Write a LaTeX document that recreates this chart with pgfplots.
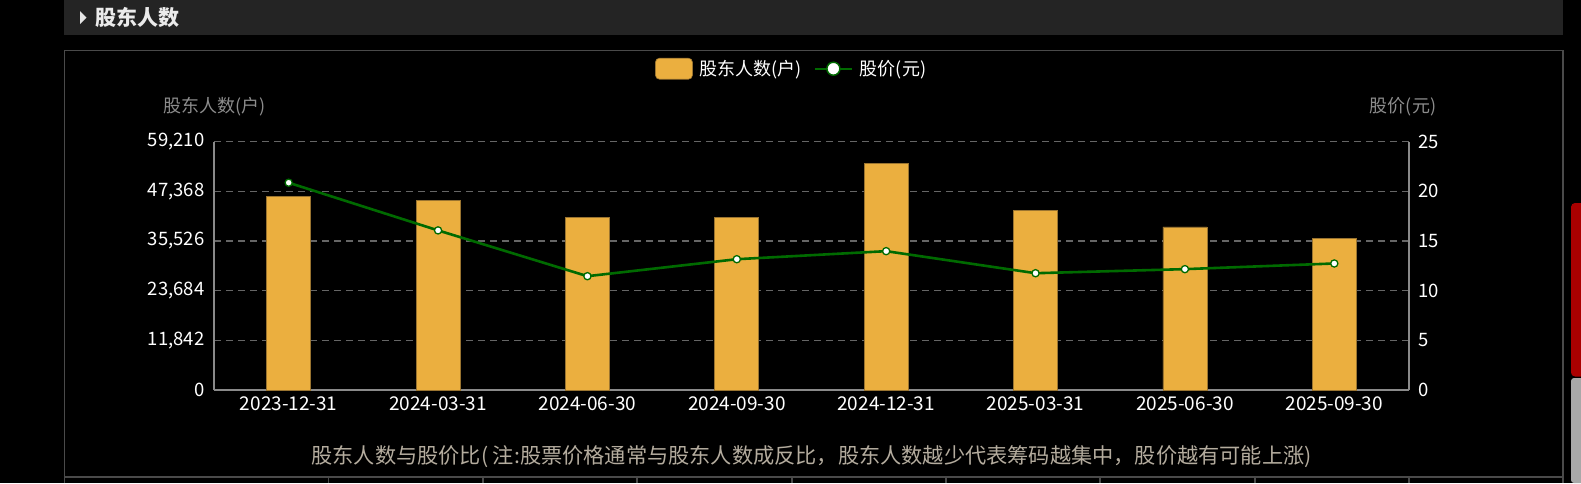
\documentclass[border=0pt]{standalone}
\usepackage{fontspec}
\setmainfont{Noto Sans CJK SC}
\usepackage{pgfplots}
\pgfplotsset{compat=1.18}
\definecolor{barc}{HTML}{EBAF3F}
\definecolor{bare}{HTML}{9A7430}
\definecolor{linec}{HTML}{006A00}
\definecolor{gridc}{HTML}{666666}
\definecolor{axc}{HTML}{8A8A8A}
\definecolor{titc}{HTML}{8C8C8C}
\definecolor{capc}{HTML}{B4AC9E}
\definecolor{hdr}{HTML}{242424}
\definecolor{panel}{HTML}{4A4A4A}
\definecolor{scrred}{HTML}{AA0000}
\definecolor{scrgray}{HTML}{A8A8A8}
\begin{document}
\begin{tikzpicture}
\useasboundingbox (0pt,0pt) rectangle (1581pt,-483pt);
% background and page decorations
\fill[black] (0pt,0pt) rectangle (1581pt,-483pt);
\fill[hdr] (64pt,0pt) rectangle (1563pt,-34.5pt);
\fill[white!90!black] (80pt,-11pt) -- (86.5pt,-17.5pt) -- (80pt,-24pt) -- cycle;
\node[anchor=west, text=white!92!black, font=\fontsize{21}{24}\selectfont\bfseries, inner sep=0pt] at (95pt,-17.5pt) {股东人数};
\draw[panel, line width=1.5pt] (64.5pt,-483pt) -- (64.5pt,-50.5pt) -- (1563pt,-50.5pt) -- (1563pt,-483pt);
\draw[panel, line width=1.5pt] (64.5pt,-477pt) -- (1563pt,-477pt);
\foreach \xx in {328.6,483,637,792,946,1100,1255,1409}{
  \draw[panel, line width=1.2pt] (\xx pt,-477pt) -- (\xx pt,-483pt);
}
\begin{scope}
\clip (0pt,0pt) rectangle (1581pt,-483pt);
\fill[scrred, rounded corners=4pt] (1571pt,-376.5pt) -- (1571pt,-203pt) -- (1585pt,-203pt) -- (1585pt,-376.5pt) -- cycle;
\fill[scrgray, rounded corners=3pt] (1571pt,-483pt) -- (1571pt,-378pt) -- (1585pt,-378pt) -- (1585pt,-483pt) -- cycle;
\end{scope}
% axis titles and caption
\node[text=titc, font=\fontsize{18}{21}\selectfont] at (214.5pt,-107pt) {股东人数(户)};
\node[text=titc, font=\fontsize{18}{21}\selectfont] at (1403pt,-107pt) {股价(元)};
\node[text=capc, font=\fontsize{21.2}{24}\selectfont] at (811.5pt,-457pt) {股东人数与股价比( 注:股票价格通常与股东人数成反比，股东人数越少代表筹码越集中，股价越有可能上涨)};

\begin{axis}[
  at={(214pt,-390pt)}, anchor=south west,
  scale only axis, width=1195pt, height=248.3pt,
  xmin=-0.5, xmax=7.5, ymin=0, ymax=59210,
  scaled y ticks=false,
  axis x line*=bottom, axis y line*=left,
  axis line style={axc, line width=1.3pt, -},
  every outer x axis line/.append style={-},
  every outer y axis line/.append style={-},
  xtick={0,1,2,3,4,5,6,7},
  xticklabels={2023-12-31,2024-03-31,2024-06-30,2024-09-30,2024-12-31,2025-03-31,2025-06-30,2025-09-30},
  ytick={0,11842,23684,35526,47368,59210},
  yticklabels={0,{11,842},{23,684},{35,526},{47,368},{59,210}},
  major tick length=0pt,
  ymajorgrids,
  grid style={gridc, line width=1.3pt, dash pattern=on 7pt off 5pt},
  yticklabel style={text=white, font=\fontsize{18.5}{21}\selectfont, xshift=-6pt},
  xticklabel style={text=white, font=\fontsize{19}{22}\selectfont, yshift=-3pt},
  /pgf/number format/assume math mode=true,
  clip=false,
]
\addplot[ybar, bar width=44pt, fill=barc, draw=bare, line width=0.6pt]
  coordinates {(0,46245) (1,45219) (2,41065) (3,41145) (4,53957) (5,42736) (6,38916) (7,36146)};
\end{axis}

\begin{axis}[
  at={(214pt,-390pt)}, anchor=south west,
  scale only axis, width=1195pt, height=248.3pt,
  xmin=-0.5, xmax=7.5, ymin=0, ymax=25,
  axis x line=none, axis y line*=right,
  axis line style={axc, line width=1.3pt, -},
  every outer y axis line/.append style={-},
  ytick={0,5,10,15,20,25},
  major tick length=0pt,
  yticklabel style={text=white, font=\fontsize{18.5}{21}\selectfont, xshift=6pt},
  /pgf/number format/assume math mode=true,
  legend columns=2,
  legend style={at={(rel axis cs:0.369,1.294)}, anchor=west, draw=none, fill=none,
    text=white, font=\fontsize{18}{21}\selectfont, inner sep=0pt,
    /tikz/every odd column/.append style={column sep=5pt},
    /tikz/every even column/.append style={column sep=10pt}},
]
\addlegendimage{legend image code/.code={\draw[fill=barc, draw=bare, line width=0.6pt, rounded corners=4pt] (0pt,-10.5pt) rectangle (37pt,10.5pt);}}
\addlegendentry{股东人数(户)}
\addplot[linec, line width=2.6pt, mark=*, mark size=3.6pt,
  mark options={fill=white, draw=linec, line width=1.3pt},
  legend image code/.code={\draw[linec, line width=2pt] (0pt,0pt) -- (37pt,0pt); \draw[linec, fill=white, line width=1.5pt] (18.5pt,0pt) circle (6.5pt);}]
  coordinates {(0,20.87) (1,16.07) (2,11.46) (3,13.17) (4,13.98) (5,11.76) (6,12.17) (7,12.74)};
\addlegendentry{股价(元)}
\end{axis}
\end{tikzpicture}
\end{document}
